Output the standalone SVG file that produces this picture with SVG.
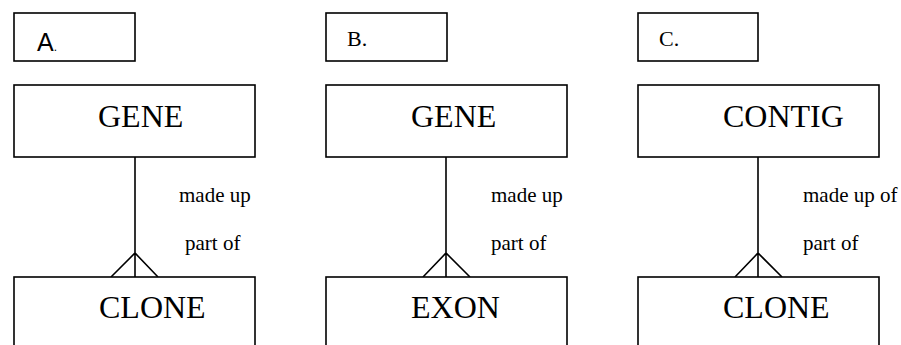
<svg xmlns="http://www.w3.org/2000/svg" width="901" height="345" viewBox="0 0 901 345">
<style>
.box{fill:#fff;stroke:#000;stroke-width:1.6}
.ln{fill:none;stroke:#000;stroke-width:1.6}
.big{font-family:"Liberation Serif","Times New Roman",serif;font-size:32px;fill:#000}
.lbl{font-family:"Liberation Serif","Times New Roman",serif;font-size:22px;fill:#000}
.rel{font-family:"Liberation Serif","Times New Roman",serif;font-size:21px;fill:#000}
</style>
<rect width="901" height="345" fill="#fff"/>
<g id="labelA"><rect class="box" x="14" y="13" width="121" height="48"/><text x="37" y="51" font-family="Liberation Sans, Arial, sans-serif" font-size="25">A<tspan font-size="12">.</tspan></text></g>
<g id="labelB"><rect class="box" x="326" y="13" width="121" height="48"/><text class="lbl" x="347" y="46">B.</text></g>
<g id="labelC"><rect class="box" x="638" y="13" width="120" height="48"/><text class="lbl" x="659" y="46">C.</text></g>
<g id="connectors">
<path class="ln" d="M135 157V277M111 277L135 253L158 277"/>
<path class="ln" d="M446 157V277M423 277L446 253L470 277"/>
<path class="ln" d="M758 157V277M735 277L758 253L782 277"/>
<text class="rel" x="179" y="202">made up</text>
<text class="rel" x="185" y="250">part of</text>
<text class="rel" x="491" y="202">made up</text>
<text class="rel" x="491" y="250">part of</text>
<text class="rel" x="803" y="202">made up of</text>
<text class="rel" x="803" y="250">part of</text>
</g>
<g id="geneA"><rect class="box" x="14" y="85" width="241" height="72"/><text class="big" x="98" y="127">GENE</text></g>
<g id="cloneA"><rect class="box" x="14" y="277" width="241" height="80"/><text class="big" x="99" y="318">CLONE</text></g>
<g id="geneB"><rect class="box" x="326" y="85" width="241" height="72"/><text class="big" x="411" y="127">GENE</text></g>
<g id="exonB"><rect class="box" x="326" y="277" width="241" height="80"/><text class="big" x="411" y="318">EXON</text></g>
<g id="contigC"><rect class="box" x="638" y="85" width="241" height="72"/><text class="big" x="723" y="127">CONTIG</text></g>
<g id="cloneC"><rect class="box" x="638" y="277" width="241" height="80"/><text class="big" x="723" y="318">CLONE</text></g>
</svg>
